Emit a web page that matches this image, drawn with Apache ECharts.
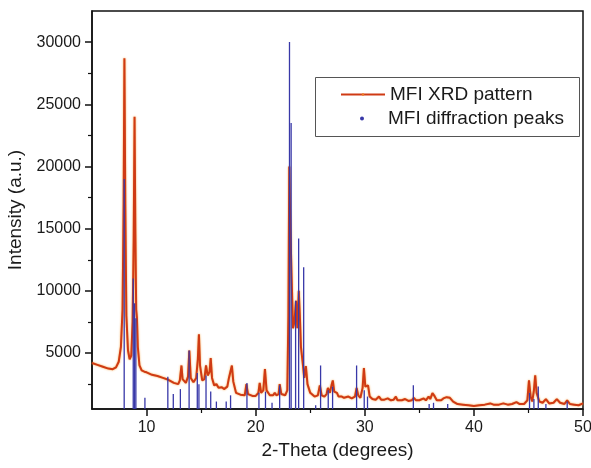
<!DOCTYPE html>
<html>
<head>
<meta charset="utf-8">
<style>
  html, body { margin: 0; padding: 0; background: #fff; }
  #chart { width: 591px; height: 468px; }
</style>
<script src="https://cdn.jsdelivr.net/npm/echarts@6/dist/echarts.min.js"></script>
</head>
<body>
<div id="chart"></div>
<script>
// measured XRD pattern (2-theta, intensity)
var patternTheta = [
  5.0, 5.5, 6.0, 6.5, 6.9, 7.2, 7.45, 7.65, 7.8, 7.9, 7.97, 8.05, 8.15, 8.3, 8.45, 8.6, 8.72, 8.82, 8.9, 8.97,
  9.05, 9.12, 9.2, 9.35, 9.55, 9.8, 9.9, 10.0, 10.5, 11.0, 11.5, 12.0, 12.5, 12.9, 13.05, 13.2, 13.3, 13.6, 13.8, 13.92,
  14.05, 14.3, 14.55, 14.7, 14.8, 14.9, 15.1, 15.3, 15.45, 15.6, 15.78, 15.88, 16.0, 16.2, 16.4, 16.6, 16.9, 17.1, 17.4, 17.55,
  17.7, 17.82, 17.95, 18.2, 18.6, 19.0, 19.15, 19.3, 19.7, 20.0, 20.25, 20.37, 20.5, 20.7, 20.85, 21.0, 21.3, 21.6, 21.75, 21.9,
  22.1, 22.2, 22.35, 22.7, 22.9, 23.0, 23.08, 23.18, 23.3, 23.42, 23.55, 23.7, 23.82, 23.95, 24.05, 24.15, 24.3, 24.45, 24.6, 24.75,
  25.0, 25.4, 25.7, 25.88, 26.05, 26.3, 26.5, 26.62, 26.8, 26.95, 27.07, 27.2, 27.45, 27.6, 27.9, 28.1, 28.5, 28.8, 29.1, 29.25,
  29.4, 29.6, 29.8, 29.92, 30.05, 30.2, 30.3, 30.45, 30.7, 31.0, 31.3, 31.5, 31.8, 32.1, 32.4, 32.65, 32.85, 33.0, 33.4, 33.7,
  34.0, 34.3, 34.5, 34.7, 35.0, 35.4, 35.6, 35.85, 36.0, 36.2, 36.35, 36.6, 37.0, 37.2, 37.5, 37.8, 38.1, 38.5, 39.0, 39.5,
  40.0, 40.5, 41.0, 41.5, 41.8, 42.3, 42.7, 43.1, 43.5, 43.9, 44.2, 44.6, 44.9, 45.05, 45.2, 45.35, 45.5, 45.62, 45.75, 46.0,
  46.3, 46.6, 46.9, 47.3, 47.6, 47.9, 48.3, 48.55, 48.8, 49.2, 49.6, 50.0
];
var patternIntensity = [
  4200, 4050, 3900, 3750, 3700, 3850, 4300, 5500, 8500, 17000, 28700, 17000, 8000, 5200, 4500, 4800, 7500, 14000, 24000, 15000,
  8500, 7800, 5500, 4000, 3600, 3500, 3650, 3450, 3250, 3150, 3000, 2850, 2600, 2500, 2800, 4000, 2900, 2600, 3100, 5200,
  3000, 2650, 3000, 4500, 6500, 4000, 2800, 2900, 4000, 3200, 3500, 4600, 3000, 2400, 2500, 2200, 2250, 2100, 2300, 3000,
  3100, 4000, 2700, 1800, 1650, 1600, 2500, 1700, 1550, 1550, 1800, 2600, 1800, 2000, 3700, 2000, 1600, 1600, 1800, 1600,
  1700, 2500, 1700, 1600, 2000, 8000, 20000, 15000, 11000, 7000, 7500, 9200, 7000, 10000, 8000, 5500, 4300, 3000, 3950, 2500,
  1800, 1500, 1600, 2400, 1600, 1500, 1700, 2200, 1800, 2400, 2800, 1900, 1800, 1500, 1500, 1400, 1500, 1350, 1500, 2200,
  1600, 1400, 2200, 3800, 2300, 2300, 2400, 1500, 1300, 1250, 1500, 1250, 1250, 1350, 1200, 1250, 1500, 1200, 1200, 1300,
  1150, 1200, 1400, 1200, 1200, 1350, 1200, 1500, 1300, 1780, 1600, 1200, 1200, 1350, 1450, 1400, 1100, 900, 850, 800,
  750, 800, 850, 950, 850, 850, 950, 850, 900, 1050, 900, 900, 1200, 2800, 1500, 1100, 2000, 3200, 1800, 1100,
  1000, 1300, 950, 1000, 1300, 1000, 900, 1200, 900, 850, 800, 950
];

// reference diffraction peaks (sticks)
var peakTheta = [
  7.95, 8.78, 8.9, 9.02, 9.85, 11.95, 12.45, 13.1, 13.9, 14.65, 14.8, 15.45, 15.88, 16.4, 17.3, 17.7, 19.2, 20.3, 20.9, 21.5,
  22.2, 23.1, 23.25, 23.66, 23.94, 24.4, 25.5, 25.95, 26.65, 27.05, 29.25, 29.95, 30.25, 34.45, 35.9, 36.3, 37.6, 45.1, 45.5, 45.9,
  46.6, 48.55
];
var peakIntensity = [
  19000, 11000, 9000, 7800, 1400, 3100, 1700, 2100, 5200, 3400, 2500, 3200, 1900, 1100, 1100, 1600, 2600, 1800, 1900, 1000,
  2400, 30000, 23500, 9200, 14200, 11900, 800, 4000, 2000, 2300, 4000, 2000, 1500, 2400, 900, 1000, 900, 1800, 1300, 2300,
  900, 1100
];

var xMajorTicks = [10, 20, 30, 40, 50];
var xMinorTicks = [15, 25, 35, 45];
var yMajorTicks = [5000, 10000, 15000, 20000, 25000, 30000];
var yMinorTicks = [2500, 7500, 12500, 17500, 22500, 27500];

var patternData = patternTheta.map(function (t, i) { return [t, patternIntensity[i]]; });
var peakData = peakTheta.map(function (t, i) { return [t, peakIntensity[i]]; });

var chart = echarts.init(document.getElementById('chart'));
var font = 'Liberation Sans, Arial, sans-serif';

var option = {
  animation: false,
  backgroundColor: '#fff',
  grid: {
    left: 92, right: 8, top: 11, bottom: 59,
    outerBoundsMode: 'none',
    show: true, borderColor: '#111', borderWidth: 1.5
  },
  xAxis: [
    {
      type: 'value', min: 5, max: 50,
      name: '2-Theta (degrees)', nameLocation: 'middle', nameGap: 32,
      nameTextStyle: { fontFamily: font, fontSize: 19, color: '#1a1a1a' },
      axisLine: { lineStyle: { color: '#111', width: 1.5 } },
      axisTick: { customValues: xMajorTicks, length: 7, lineStyle: { color: '#111', width: 1.5 } },
      axisLabel: {
        customValues: xMajorTicks, margin: 11, fontFamily: font, fontSize: 16, color: '#1a1a1a',
        formatter: function (v) { return String(v); }
      },
      splitLine: { show: false }
    },
    {
      type: 'value', min: 5, max: 50, position: 'bottom',
      axisLine: { show: false },
      axisTick: { customValues: xMinorTicks, length: 4, lineStyle: { color: '#111', width: 1.2 } },
      axisLabel: { show: false },
      splitLine: { show: false }
    }
  ],
  yAxis: [
    {
      type: 'value', min: 500, max: 32500,
      name: 'Intensity (a.u.)', nameLocation: 'middle', nameGap: 64, nameRotate: 90,
      nameTextStyle: { fontFamily: font, fontSize: 19, color: '#1a1a1a' },
      axisLine: { show: true, lineStyle: { color: '#111', width: 1.5 } },
      axisTick: { customValues: yMajorTicks, length: 7, lineStyle: { color: '#111', width: 1.5 } },
      axisLabel: {
        customValues: yMajorTicks, margin: 11, fontFamily: font, fontSize: 16, color: '#1a1a1a',
        formatter: function (v) { return String(v); }
      },
      splitLine: { show: false }
    },
    {
      type: 'value', min: 500, max: 32500, position: 'left',
      axisLine: { show: false },
      axisTick: { customValues: yMinorTicks, length: 4, lineStyle: { color: '#111', width: 1.2 } },
      axisLabel: { show: false },
      splitLine: { show: false }
    }
  ],
  legend: [
    {
      left: 340, top: 85, padding: 0, orient: 'vertical',
      itemWidth: 44, itemHeight: 3,
      data: ['MFI XRD pattern'],
      textStyle: { fontFamily: font, fontSize: 19, color: '#1a1a1a' }
    },
    {
      left: 360, top: 109, padding: 0, orient: 'vertical',
      itemWidth: 4, itemHeight: 4,
      data: [{ name: 'MFI diffraction peaks', icon: 'circle' }],
      textStyle: { fontFamily: font, fontSize: 19, color: '#1a1a1a', padding: [0, 0, 0, 19] }
    }
  ],
  graphic: [
    {
      type: 'rect', left: 313, top: 75, z: 100,
      shape: { width: 264, height: 59 },
      style: { fill: 'none', stroke: '#555', lineWidth: 1 }
    }
  ],
  series: [
    {
      name: 'MFI XRD pattern',
      type: 'line',
      data: patternData,
      symbol: 'none',
      clip: true,
      lineStyle: {
        color: '#cf3a14', width: 2,
        shadowColor: 'rgba(245,150,40,0.9)', shadowBlur: 2
      },
      itemStyle: { color: '#ee7a25' },
      z: 2
    },
    {
      name: 'MFI diffraction peaks',
      type: 'bar',
      data: peakData,
      barWidth: 1.3,
      itemStyle: { color: '#3838a8' },
      z: 3
    }
  ]
};

chart.setOption(option);
</script>
</body>
</html>
